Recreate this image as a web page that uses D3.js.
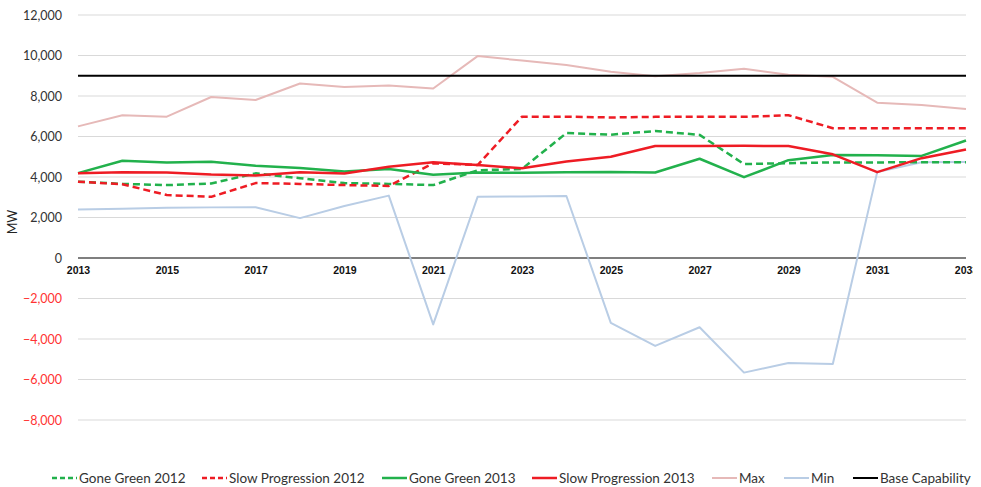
<!DOCTYPE html>
<html>
<head>
<meta charset="utf-8">
<script src="https://cdn.jsdelivr.net/npm/d3@7"></script>
<style>
  html, body { margin: 0; padding: 0; background: #fff; }
  svg { display: block; font-family: Lato, "Open Sans", "Liberation Sans", sans-serif; }
</style>
</head>
<body>
<svg id="chart" width="981" height="487"></svg>
<script>
// Years on the x axis
const years = d3.range(2013, 2034);
const yTicks = [-8000, -6000, -4000, -2000, 0, 2000, 4000, 6000, 8000, 10000, 12000];
const xTickYears = [2013, 2015, 2017, 2019, 2021, 2023, 2025, 2027, 2029, 2031, 2033];

// Series values (MW)
const goneGreen2012 = [3770, 3660, 3600, 3680, 4180, 3940, 3700, 3660, 3600, 4330, 4400, 6170, 6090, 6270, 6080, 4640, 4680, 4720, 4720, 4730, 4730];
const slowProg2012  = [3770, 3640, 3110, 3020, 3700, 3660, 3600, 3560, 4680, 4590, 6980, 6980, 6940, 6970, 6970, 6970, 7050, 6410, 6410, 6410, 6410];
const goneGreen2013 = [4190, 4800, 4720, 4750, 4560, 4440, 4270, 4400, 4110, 4220, 4210, 4230, 4250, 4220, 4900, 3990, 4830, 5090, 5070, 5040, 5800];
const slowProg2013  = [4180, 4240, 4220, 4120, 4070, 4230, 4170, 4510, 4730, 4590, 4430, 4760, 5000, 5530, 5530, 5540, 5530, 5120, 4240, 4930, 5360];
const maxValues     = [6500, 7050, 6980, 7950, 7800, 8620, 8450, 8520, 8370, 9970, 9750, 9530, 9200, 8980, 9130, 9340, 9050, 8950, 7670, 7550, 7360];
const minValues     = [2400, 2430, 2480, 2500, 2510, 1970, 2570, 3080, -3280, 3020, 3040, 3060, -3200, -4340, -3420, -5660, -5190, -5230, 4240, 4730, 4740];
const baseCapability = years.map(() => 9000);

const seriesNames = ["Gone Green 2012", "Slow Progression 2012", "Gone Green 2013", "Slow Progression 2013", "Max", "Min", "Base Capability"];

const series = [
  { name: seriesNames[4], values: maxValues,      color: "#e6b9b8", width: 2,   dash: null },
  { name: seriesNames[5], values: minValues,      color: "#b9cde5", width: 2,   dash: null },
  { name: seriesNames[6], values: baseCapability, color: "#000000", width: 2,   dash: null },
  { name: seriesNames[0], values: goneGreen2012,  color: "#22b14c", width: 2.5, dash: "7,4" },
  { name: seriesNames[1], values: slowProg2012,   color: "#ee1c24", width: 2.5, dash: "7,4" },
  { name: seriesNames[2], values: goneGreen2013,  color: "#22b14c", width: 2.5, dash: null },
  { name: seriesNames[3], values: slowProg2013,   color: "#ee1c24", width: 2.5, dash: null }
];

const svg = d3.select("#chart");

const x = d3.scaleLinear().domain([2013, 2033]).range([78, 966]);
const y = d3.scaleLinear().domain([-8000, 12000]).range([420, 15]);

// The chart area cuts off anything past its right edge
svg.append("defs").append("clipPath").attr("id", "chart-area")
  .append("rect").attr("x", 0).attr("y", 0).attr("width", 973).attr("height", 487);

// Horizontal gridlines
svg.append("g")
  .selectAll("line")
  .data(yTicks.filter(d => d !== 0))
  .join("line")
  .attr("x1", x(2013)).attr("x2", x(2033))
  .attr("y1", d => y(d)).attr("y2", d => y(d))
  .attr("stroke", "#d9d9d9").attr("stroke-width", 1);

// Y axis labels
const yAxis = d3.axisLeft(y).tickValues(yTicks).tickSize(0).tickPadding(0)
  .tickFormat(d => d3.format(",")(d));
const yg = svg.append("g").attr("transform", "translate(62,0)").call(yAxis);
yg.select(".domain").remove();
yg.selectAll("text")
  .attr("font-size", 12.5)
  .attr("font-family", "Lato, 'Open Sans', sans-serif")
  .attr("fill", d => d < 0 ? "#ff3333" : "#333333");

// Y axis title
svg.append("text")
  .attr("transform", "translate(17,222) rotate(-90)")
  .attr("text-anchor", "middle")
  .attr("font-size", 12.5)
  .attr("fill", "#222")
  .text("MW");

// Zero line
svg.append("line")
  .attr("x1", x(2013)).attr("x2", x(2033))
  .attr("y1", y(0)).attr("y2", y(0))
  .attr("stroke", "#7f7f7f").attr("stroke-width", 2);

// X axis labels under the zero line
const xAxis = d3.axisBottom(x).tickValues(xTickYears).tickSize(0).tickPadding(0)
  .tickFormat(d3.format("d"));
const xg = svg.append("g").attr("clip-path", "url(#chart-area)")
  .append("g").attr("transform", `translate(0,${y(0) + 9})`).call(xAxis);
xg.select(".domain").remove();
xg.selectAll("text")
  .attr("font-size", 10.5)
  .attr("font-weight", "bold")
  .attr("fill", "#111");

// Series lines
const line = d3.line().x((d, i) => x(years[i])).y(d => y(d));
svg.append("g")
  .selectAll("path")
  .data(series)
  .join("path")
  .attr("d", d => line(d.values))
  .attr("fill", "none")
  .attr("stroke", d => d.color)
  .attr("stroke-width", d => d.width)
  .attr("stroke-dasharray", d => d.dash)
  .attr("stroke-linejoin", "round");

// Legend
const legendOrder = [3, 4, 5, 6, 0, 1, 2].map(i => series[i]);
const legendX = [52, 202, 382, 532, 712, 784, 853];
const lg = svg.append("g").selectAll("g")
  .data(legendOrder)
  .join("g")
  .attr("transform", (d, i) => `translate(${legendX[i]},478)`);
lg.append("line")
  .attr("x1", 0).attr("x2", 25).attr("y1", 0).attr("y2", 0)
  .attr("stroke", d => d.color)
  .attr("stroke-width", d => d.width)
  .attr("stroke-dasharray", d => d.dash ? "5,3" : null);
lg.append("text")
  .attr("x", 27).attr("y", 4.5)
  .attr("font-size", 13.5)
  .attr("fill", "#333")
  .text(d => d.name);
</script>
</body>
</html>
